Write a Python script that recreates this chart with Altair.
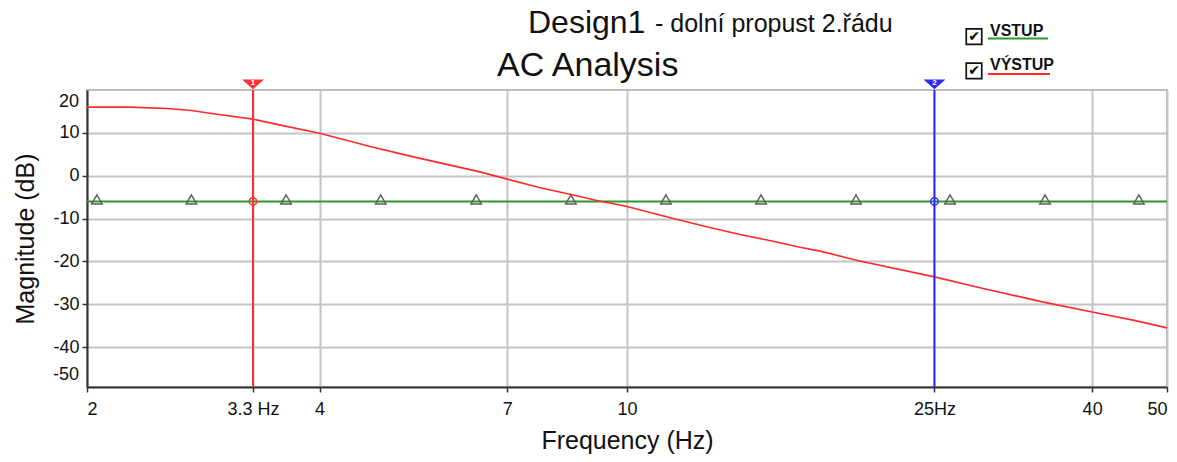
import altair as alt
import pandas as pd

# ---- data ----
# VÝSTUP (output) magnitude in dB vs frequency in Hz
out_freq = [2.0, 2.27, 2.54, 2.73, 2.93, 3.28, 3.56, 4.0, 4.65, 5.29, 5.73,
            6.45, 7.0, 7.72, 8.52, 9.14, 10.0, 11.48, 12.68, 14.0, 15.46,
            16.75, 17.78, 20.0, 25.0, 28.9, 34.6, 40.0, 45.2, 50.0]
out_db = [16.0, 16.0, 15.7, 15.2, 14.4, 13.2, 11.8, 9.9, 6.8, 4.4, 3.0,
          0.9, -0.8, -2.8, -4.5, -5.8, -7.2, -10.0, -11.9, -13.7, -15.3,
          -16.7, -17.6, -19.9, -23.6, -26.3, -29.5, -31.8, -33.7, -35.5]

# VSTUP (input) magnitude: flat line with triangle markers
in_freq = [2.0, 2.06, 2.73, 3.62, 4.80, 6.38, 8.46, 11.23, 14.91, 19.79,
           26.19, 34.76, 45.98, 50.0]
in_db = [-6.0] * len(in_freq)
marker_freq = [2.06, 2.73, 3.62, 4.80, 6.38, 8.46, 11.23, 14.91, 19.79,
               26.19, 34.76, 45.98]
marker_db = [-6.0] * len(marker_freq)

# cursors
cursor_freq = [3.28, 25.0]
cursor_name = ["1", "2"]
cursor_color = ["#ff3030", "#2a2aff"]
cursor_db = [-6.0, -6.0]

# axis ticks / labels
x_tick_vals = [2, 3.28, 4, 7, 10, 25, 40, 50]
x_tick_labels = ["2", "3.3 Hz", "4", "7", "10", "25Hz", "40", "50"]
y_tick_vals = [-40, -30, -20, -10, 0, 10]
y_extra_labels = ["20", "-50"]
y_extra_pos = [17.2, -46.6]

FONT = "Liberation Sans"
RED = "#ff2a2a"
GREEN = "#2b9a2b"

out_df = pd.DataFrame({"freq": out_freq, "mag": out_db})
in_df = pd.DataFrame({"freq": in_freq, "mag": in_db})
mk_df = pd.DataFrame({"freq": marker_freq, "mag": marker_db})
cur_df = pd.DataFrame({"freq": cursor_freq, "name": cursor_name,
                       "color": cursor_color, "mag": cursor_db})
ylab_df = pd.DataFrame({"label": y_extra_labels, "mag": y_extra_pos})

label_expr = "".join(
    f"abs(datum.value - {v}) < 0.001 ? '{l}' : "
    for v, l in zip(x_tick_vals, x_tick_labels)) + "''"


def X():
    return alt.X(
        "freq:Q",
        scale=alt.Scale(type="log", domain=[2, 50], nice=False),
        axis=alt.Axis(values=x_tick_vals, labelExpr=label_expr,
                      title="Frequency (Hz)", labelFlush=True,
                      labelPadding=8, titlePadding=10),
    )


def Y():
    return alt.Y(
        "mag:Q",
        scale=alt.Scale(domain=[-49.3, 20], nice=False, zero=False),
        axis=alt.Axis(values=y_tick_vals, title="Magnitude (dB)",
                      labelExpr="'' + datum.value",
                      labelPadding=3, titlePadding=14),
    )


green_line = alt.Chart(in_df).mark_line(color=GREEN, strokeWidth=2).encode(
    x=X(), y=Y())

triangles = alt.Chart(mk_df).mark_point(
    shape="triangle-up", filled=False, color="#5e5e5e", size=110,
    strokeWidth=1.5, yOffset=-2, opacity=1).encode(x=X(), y=Y())

red_line = alt.Chart(out_df).mark_line(color=RED, strokeWidth=1.6).encode(
    x=X(), y=Y())

cursor_rules = alt.Chart(cur_df).mark_rule(strokeWidth=2).encode(
    x=X(), color=alt.Color("color:N", scale=None))

cursor_circles = alt.Chart(cur_df).mark_point(
    shape="circle", filled=False, size=55, strokeWidth=1.5, opacity=1).encode(
    x=X(), y=Y(), color=alt.Color("color:N", scale=None))

cursor_heads = alt.Chart(cur_df).mark_point(
    shape="M-1,-0.45L1,-0.45L0,0.45Z", filled=True, size=480,
    opacity=1).encode(
    x=X(), y=alt.value(-5.6), color=alt.Color("color:N", scale=None))

cursor_nums = alt.Chart(cur_df).mark_text(
    color="white", fontSize=8, fontWeight="bold", font=FONT).encode(
    x=X(), y=alt.value(-7), text="name:N")

y_extra = alt.Chart(ylab_df).mark_text(
    align="right", baseline="middle", fontSize=18, font=FONT,
    color="#111").encode(x=alt.value(-8), y=Y(), text="label:N")

one = pd.DataFrame({"a": [0]})

title1 = alt.Chart(one).mark_text(
    text="Design1", align="left", baseline="alphabetic", fontSize=32,
    font=FONT, color="#111").encode(x=alt.value(441), y=alt.value(-57))
title1b = alt.Chart(one).mark_text(
    text="- dolní propust 2.řádu", align="left", baseline="alphabetic",
    fontSize=25, font=FONT, color="#111").encode(
    x=alt.value(568), y=alt.value(-58))
title2 = alt.Chart(one).mark_text(
    text="AC Analysis", align="left", baseline="alphabetic", fontSize=34,
    font=FONT, color="#111").encode(x=alt.value(410), y=alt.value(-14))

# legend (checkboxes + names + coloured underline)
leg_names = ["VSTUP", "VÝSTUP"]
box1 = alt.Chart(one).mark_point(
    shape="square", filled=False, size=240, color="#111", strokeWidth=1.7,
    opacity=1).encode(x=alt.value(887), y=alt.value(-53.3))
box2 = alt.Chart(one).mark_point(
    shape="square", filled=False, size=240, color="#111", strokeWidth=1.7,
    opacity=1).encode(x=alt.value(887), y=alt.value(-19.2))
chk1 = alt.Chart(one).mark_text(
    text="✔", fontSize=14, font="DejaVu Sans", color="#000",
    baseline="middle").encode(x=alt.value(887), y=alt.value(-53))
chk2 = alt.Chart(one).mark_text(
    text="✔", fontSize=14, font="DejaVu Sans", color="#000",
    baseline="middle").encode(x=alt.value(887), y=alt.value(-19))
leg1 = alt.Chart(one).mark_text(
    text=leg_names[0], align="left", baseline="alphabetic", fontSize=16,
    fontWeight="bold", font=FONT, color="#111").encode(
    x=alt.value(903), y=alt.value(-54.5))
leg2 = alt.Chart(one).mark_text(
    text=leg_names[1], align="left", baseline="alphabetic", fontSize=16,
    fontWeight="bold", font=FONT, color="#111").encode(
    x=alt.value(903), y=alt.value(-20.3))
ul1 = alt.Chart(one).mark_rule(color=GREEN, strokeWidth=2).encode(
    x=alt.value(901), x2=alt.value(961), y=alt.value(-51.5))
ul2 = alt.Chart(one).mark_rule(color=RED, strokeWidth=2).encode(
    x=alt.value(901), x2=alt.value(963), y=alt.value(-16))

chart = alt.layer(
    green_line, triangles, red_line, cursor_rules, cursor_circles,
    cursor_heads, cursor_nums, y_extra,
    title1, title1b, title2, box1, box2, chk1, chk2, leg1, leg2, ul1, ul2,
).properties(
    width=1080, height=297,
    padding={"left": 87, "top": 90, "right": 10, "bottom": 75},
    autosize=alt.AutoSizeParams(type="none"),
    background="white",
).configure_view(
    stroke="#bdbdbd", strokeWidth=2,
).configure_axis(
    gridColor="#c4c4c4", gridWidth=2, gridOpacity=1,
    domainColor="#333333", domainWidth=2,
    tickColor="#333333", tickSize=5, tickWidth=1.5,
    labelFont=FONT, labelFontSize=18, labelColor="#111",
    titleFont=FONT, titleFontSize=25, titleFontWeight="normal",
    titleColor="#111",
)

chart.save("out.html", embed_options={"renderer": "svg", "actions": False})
